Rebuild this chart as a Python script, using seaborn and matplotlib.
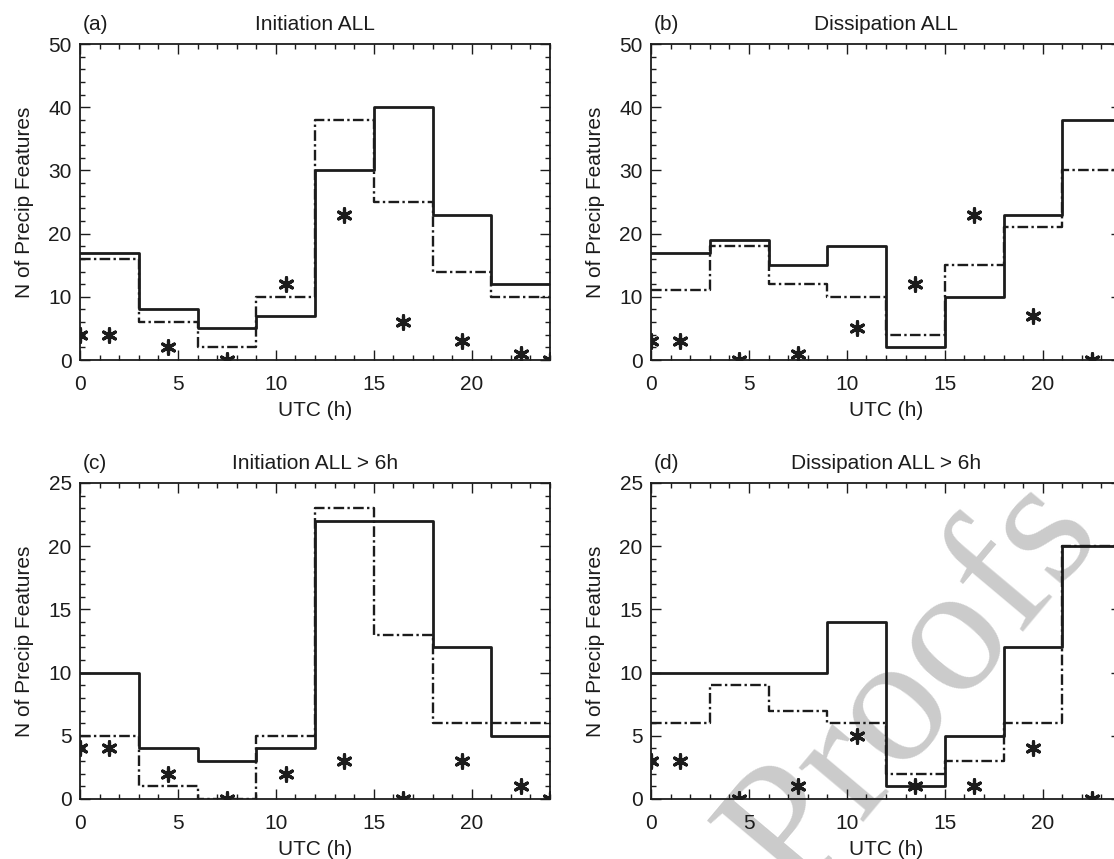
import numpy as np
import pandas as pd
import matplotlib
matplotlib.use("Agg")
import matplotlib.pyplot as plt
import seaborn as sns

# ---------------- data ----------------
bin_edges = [0, 3, 6, 9, 12, 15, 18, 21, 24]
star_hours = [0, 1.5, 4.5, 7.5, 10.5, 13.5, 16.5, 19.5, 22.5, 24]

init_all_solid = [17, 8, 5, 7, 30, 40, 23, 12]
init_all_dash = [16, 6, 2, 10, 38, 25, 14, 10]
init_all_star = [4, 4, 2, 0, 12, 23, 6, 3, 1, 0]

diss_all_solid = [17, 19, 15, 18, 2, 10, 23, 38]
diss_all_dash = [11, 18, 12, 10, 4, 15, 21, 30]
diss_all_star = [3, 3, 0, 1, 5, 12, 23, 7, 0, 0]

init6_solid = [10, 4, 3, 4, 22, 22, 12, 5]
init6_dash = [5, 1, 0, 5, 23, 13, 6, 6]
init6_star = [4, 4, 2, 0, 2, 3, 0, 3, 1, 0]

diss6_solid = [10, 10, 10, 14, 1, 5, 12, 20]
diss6_dash = [6, 9, 7, 6, 2, 3, 6, 20]
diss6_star = [3, 3, 0, 1, 5, 1, 1, 4, 0, 0]

panel_tags = ["(a)", "(b)", "(c)", "(d)"]
panel_titles = ["Initiation ALL", "Dissipation ALL",
                "Initiation ALL > 6h", "Dissipation ALL > 6h"]
y_max = [50, 50, 25, 25]
y_major = [10, 10, 5, 5]
y_minor = [2, 2, 1, 1]

panels = [
    (init_all_solid, init_all_dash, init_all_star),
    (diss_all_solid, diss_all_dash, diss_all_star),
    (init6_solid, init6_dash, init6_star),
    (diss6_solid, diss6_dash, diss6_star),
]

# ---------------- style ----------------
sns.set_style("ticks")
plt.rcParams["font.family"] = ["Liberation Sans", "DejaVu Sans"]
INK = "#1c1c1c"
plt.rcParams["text.color"] = INK
plt.rcParams["axes.labelcolor"] = INK
plt.rcParams["xtick.color"] = INK
plt.rcParams["ytick.color"] = INK

W, H = 1114, 859
fig = plt.figure(figsize=(W / 100, H / 100), dpi=100)
fig.patch.set_facecolor("white")

# axes boxes in pixels: left, top
ax_w, ax_h = 470, 316
boxes = [(80, 44), (651, 44), (80, 483), (651, 483)]

# watermark
fig.text(948 / W, 1 - 714 / H, "Proofs", rotation=50, rotation_mode="anchor",
         ha="center", va="baseline", fontsize=132,
         family=["Liberation Serif", "DejaVu Serif"], color="#cbcbcb", zorder=-5)

for i, (left, top) in enumerate(boxes):
    ax = fig.add_axes([left / W, 1 - (top + ax_h) / H, ax_w / W, ax_h / H])
    ax.set_facecolor("none")
    solid, dash, star = panels[i]
    xs = list(bin_edges)
    df_solid = pd.DataFrame({"UTC": xs, "N": list(solid) + [solid[-1]]})
    df_dash = pd.DataFrame({"UTC": xs, "N": list(dash) + [dash[-1]]})
    df_star = pd.DataFrame({"UTC": star_hours, "N": star})

    sns.lineplot(data=df_dash, x="UTC", y="N", ax=ax, estimator=None, sort=False,
                 drawstyle="steps-post", color=INK, linewidth=1.7,
                 linestyle=(0, (4.5, 1.4, 1.0, 1.4)))
    sns.lineplot(data=df_solid, x="UTC", y="N", ax=ax, estimator=None, sort=False,
                 drawstyle="steps-post", color=INK, linewidth=2.0)
    sns.scatterplot(data=df_star, x="UTC", y="N", ax=ax, marker=(6, 2, 0),
                    s=95, color=INK, edgecolor=INK, linewidth=2.3, zorder=4)

    ax.set_xlim(0, 24)
    ax.set_ylim(0, y_max[i])
    ax.set_xticks(np.arange(0, 21, 5))
    ax.set_xticks(np.arange(0, 25, 1), minor=True)
    ax.set_yticks(np.arange(0, y_max[i] + 1, y_major[i]))
    ax.set_yticks(np.arange(0, y_max[i] + 1, y_minor[i]), minor=True)
    ax.tick_params(which="both", direction="in", top=True, right=True,
                   labelsize=15, width=1.0, color=INK)
    ax.tick_params(which="major", length=7)
    ax.tick_params(which="minor", length=3.5)
    ax.tick_params(axis="x", which="major", pad=11)
    ax.tick_params(axis="y", which="major", pad=6)
    for sp in ax.spines.values():
        sp.set_linewidth(1.3)
        sp.set_color(INK)
        sp.set_visible(True)

    ax.set_xlabel("UTC (h)", fontsize=15)
    ax.set_ylabel("N of Precip Features", fontsize=15)
    ax.xaxis.set_label_coords(0.5, -0.16)
    ax.yaxis.set_label_coords(-0.118, 0.5)
    ax.xaxis.label.set_va("center")
    ax.yaxis.label.set_va("center")
    ax.set_title(panel_tags[i], loc="left", fontsize=15, pad=10, x=0.005)
    ax.set_title(panel_titles[i], loc="center", fontsize=15, pad=10)

fig.savefig("out.png", dpi=100, facecolor="white")
